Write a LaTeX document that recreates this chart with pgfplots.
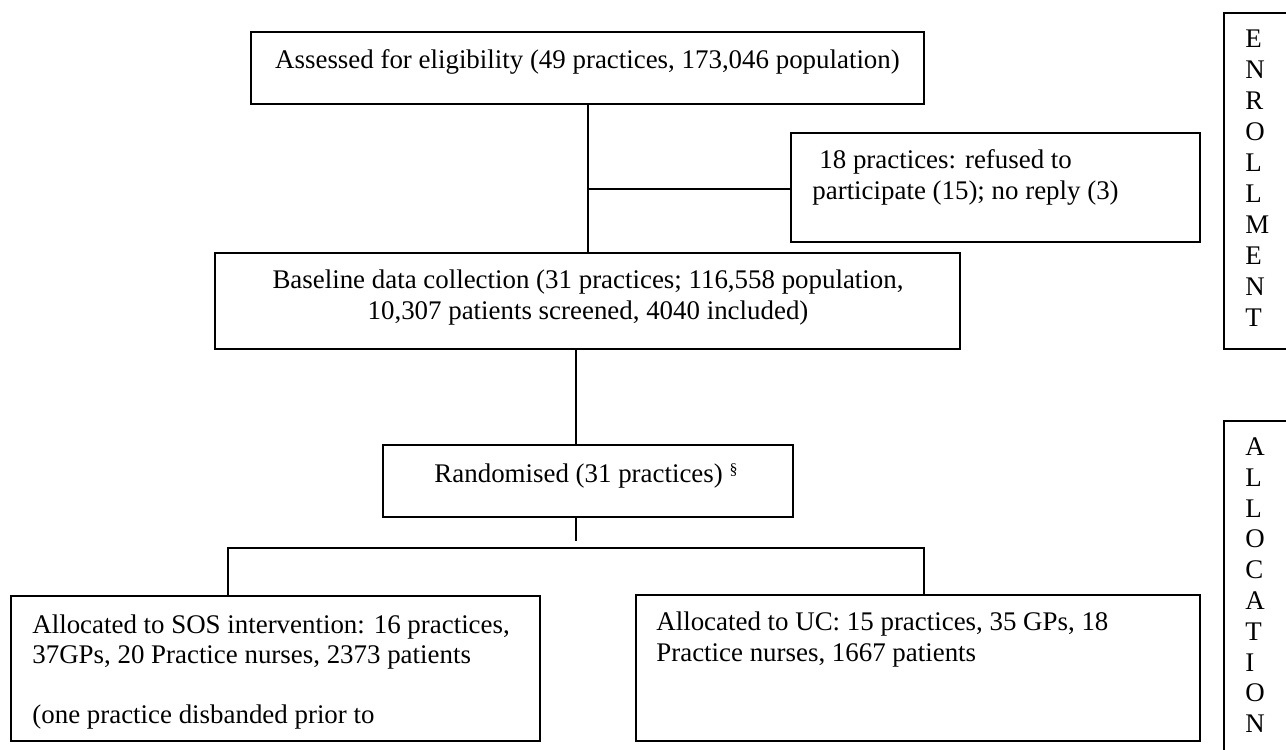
\documentclass[border=0pt]{standalone}
\usepackage{pgfplots}
\pgfplotsset{compat=1.18}
\usepackage{fontspec}
\setmainfont{Liberation Serif}
\newcommand{\ff}{\fontsize{13.5pt}{15.5pt}\selectfont}
\begin{document}
\ff
\begin{tikzpicture}[T/.style={inner sep=0pt, font=\ff}]
\begin{axis}[
  x=0.5bp, y=0.5bp, y dir=reverse,
  xmin=0, xmax=1286, ymin=0, ymax=749,
  hide axis, clip=true,
  ln/.style={black, line width=0.9pt, mark=none, line join=miter, solid},
]
% invisible frame for bounding box
\addplot[draw=none, mark=none] coordinates {(0,0) (1286,749)};
% boxes
\addplot[ln] coordinates {(251,32) (924,32) (924,104) (251,104)} -- cycle;
\addplot[ln] coordinates {(791,133) (1200,133) (1200,242) (791,242)} -- cycle;
\addplot[ln] coordinates {(215,253) (960,253) (960,349) (215,349)} -- cycle;
\addplot[ln] coordinates {(383,445) (793,445) (793,517) (383,517)} -- cycle;
\addplot[ln] coordinates {(11,596) (540,596) (540,741) (11,741)} -- cycle;
\addplot[ln] coordinates {(636,595) (1200,595) (1200,741) (636,741)} -- cycle;
\addplot[ln] coordinates {(1300,13) (1224,13) (1224,349) (1300,349)};
\addplot[ln] coordinates {(1300,421) (1224,421) (1224,770)};
% connectors
\addplot[ln] coordinates {(588,104) (588,253)};
\addplot[ln] coordinates {(588,189) (791,189)};
\addplot[ln] coordinates {(576,349) (576,445)};
\addplot[ln] coordinates {(576,517) (576,541)};
\addplot[ln] coordinates {(228,596) (228,548) (924,548) (924,595)};
% texts
\node[T, anchor=base] at (axis cs:587.5,68) {Assessed for eligibility (49 practices, 173,046 population)};
\node[T, anchor=base west] at (axis cs:819,168) {18 practices: refused to};
\node[T, anchor=base west] at (axis cs:812,199) {participate (15); no reply (3)};
\node[T, anchor=base] at (axis cs:588,288) {Baseline data collection (31 practices; 116,558 population,};
\node[T, anchor=base] at (axis cs:588,319) {10,307 patients screened, 4040 included)};
\node[T, anchor=base] at (axis cs:586,482) {Randomised (31 practices) \raisebox{0.6ex}{\fontsize{8pt}{9pt}\selectfont §}};
\node[T, anchor=base west] at (axis cs:32,633) {Allocated to SOS intervention: 16 practices,};
\node[T, anchor=base west] at (axis cs:32,663) {37GPs, 20 Practice nurses, 2373 patients};
\node[T, anchor=base west] at (axis cs:32,723) {(one practice disbanded prior to};
\node[T, anchor=base west] at (axis cs:656,630) {Allocated to UC: 15 practices, 35 GPs, 18};
\node[T, anchor=base west] at (axis cs:656,661) {Practice nurses, 1667 patients};
% ENROLLMENT
\node[T, anchor=base west] at (axis cs:1245,47) {E};
\node[T, anchor=base west] at (axis cs:1245,78) {N};
\node[T, anchor=base west] at (axis cs:1245,109) {R};
\node[T, anchor=base west] at (axis cs:1245,140) {O};
\node[T, anchor=base west] at (axis cs:1245,171) {L};
\node[T, anchor=base west] at (axis cs:1245,202) {L};
\node[T, anchor=base west] at (axis cs:1245,233) {M};
\node[T, anchor=base west] at (axis cs:1245,264) {E};
\node[T, anchor=base west] at (axis cs:1245,295) {N};
\node[T, anchor=base west] at (axis cs:1245,326) {T};
% ALLOCATION
\node[T, anchor=base west] at (axis cs:1245,455) {A};
\node[T, anchor=base west] at (axis cs:1245,486) {L};
\node[T, anchor=base west] at (axis cs:1245,517) {L};
\node[T, anchor=base west] at (axis cs:1245,547) {O};
\node[T, anchor=base west] at (axis cs:1245,578) {C};
\node[T, anchor=base west] at (axis cs:1245,609) {A};
\node[T, anchor=base west] at (axis cs:1245,640) {T};
\node[T, anchor=base west] at (axis cs:1245,671) {I};
\node[T, anchor=base west] at (axis cs:1245,701) {O};
\node[T, anchor=base west] at (axis cs:1245,732) {N};
\end{axis}
\end{tikzpicture}
\end{document}
